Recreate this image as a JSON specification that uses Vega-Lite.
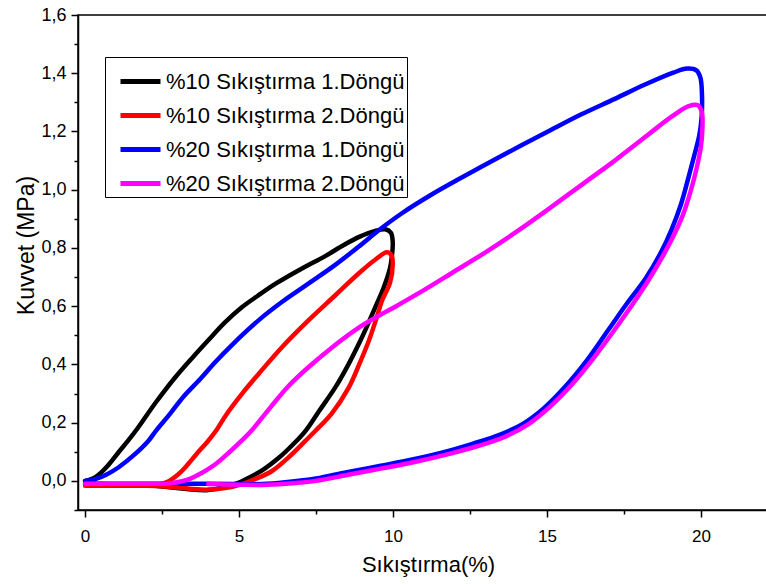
{
 "$schema": "https://vega.github.io/schema/vega-lite/v6.json",
 "width": 700,
 "height": 495,
 "autosize": {"type": "none"},
 "padding": {"left": 78, "top": 15, "right": 0, "bottom": 74},
 "background": "white",
 "config": {"view": {"stroke": "#000000", "strokeWidth": 1.5}, "font": "Liberation Sans"},
 "datasets": {
  "raw": [
   {"series":"%10 Sıkıştırma 1.Döngü","i":1,"x":0,"y":0},
   {"series":"%10 Sıkıştırma 1.Döngü","i":2,"x":0.35,"y":0.014},
   {"series":"%10 Sıkıştırma 1.Döngü","i":3,"x":0.76,"y":0.055},
   {"series":"%10 Sıkıştırma 1.Döngü","i":4,"x":1.1,"y":0.1},
   {"series":"%10 Sıkıştırma 1.Döngü","i":5,"x":1.41,"y":0.14},
   {"series":"%10 Sıkıştırma 1.Döngü","i":6,"x":1.7,"y":0.18},
   {"series":"%10 Sıkıştırma 1.Döngü","i":7,"x":2.3,"y":0.27},
   {"series":"%10 Sıkıştırma 1.Döngü","i":8,"x":2.93,"y":0.356},
   {"series":"%10 Sıkıştırma 1.Döngü","i":9,"x":3.5,"y":0.425},
   {"series":"%10 Sıkıştırma 1.Döngü","i":10,"x":4.0,"y":0.483},
   {"series":"%10 Sıkıştırma 1.Döngü","i":11,"x":4.55,"y":0.545},
   {"series":"%10 Sıkıştırma 1.Döngü","i":12,"x":5.1,"y":0.597},
   {"series":"%10 Sıkıştırma 1.Döngü","i":13,"x":5.6,"y":0.635},
   {"series":"%10 Sıkıştırma 1.Döngü","i":14,"x":6.2,"y":0.678},
   {"series":"%10 Sıkıştırma 1.Döngü","i":15,"x":7.0,"y":0.727},
   {"series":"%10 Sıkıştırma 1.Döngü","i":16,"x":7.8,"y":0.772},
   {"series":"%10 Sıkıştırma 1.Döngü","i":17,"x":8.4,"y":0.81},
   {"series":"%10 Sıkıştırma 1.Döngü","i":18,"x":8.9,"y":0.838},
   {"series":"%10 Sıkıştırma 1.Döngü","i":19,"x":9.4,"y":0.858},
   {"series":"%10 Sıkıştırma 1.Döngü","i":20,"x":9.75,"y":0.864},
   {"series":"%10 Sıkıştırma 1.Döngü","i":21,"x":9.93,"y":0.852},
   {"series":"%10 Sıkıştırma 1.Döngü","i":22,"x":9.99,"y":0.82},
   {"series":"%10 Sıkıştırma 1.Döngü","i":23,"x":9.96,"y":0.77},
   {"series":"%10 Sıkıştırma 1.Döngü","i":24,"x":9.9,"y":0.73},
   {"series":"%10 Sıkıştırma 1.Döngü","i":25,"x":9.7,"y":0.665},
   {"series":"%10 Sıkıştırma 1.Döngü","i":26,"x":9.43,"y":0.598},
   {"series":"%10 Sıkıştırma 1.Döngü","i":27,"x":9.15,"y":0.53},
   {"series":"%10 Sıkıştırma 1.Döngü","i":28,"x":8.89,"y":0.471},
   {"series":"%10 Sıkıştırma 1.Döngü","i":29,"x":8.5,"y":0.39},
   {"series":"%10 Sıkıştırma 1.Döngü","i":30,"x":8.13,"y":0.322},
   {"series":"%10 Sıkıştırma 1.Döngü","i":31,"x":7.6,"y":0.24},
   {"series":"%10 Sıkıştırma 1.Döngü","i":32,"x":7.16,"y":0.172},
   {"series":"%10 Sıkıştırma 1.Döngü","i":33,"x":6.75,"y":0.125},
   {"series":"%10 Sıkıştırma 1.Döngü","i":34,"x":6.3,"y":0.08},
   {"series":"%10 Sıkıştırma 1.Döngü","i":35,"x":5.75,"y":0.036},
   {"series":"%10 Sıkıştırma 1.Döngü","i":36,"x":5.3,"y":0.01},
   {"series":"%10 Sıkıştırma 1.Döngü","i":37,"x":4.95,"y":-0.008},
   {"series":"%10 Sıkıştırma 1.Döngü","i":38,"x":4.5,"y":-0.022},
   {"series":"%10 Sıkıştırma 1.Döngü","i":39,"x":3.95,"y":-0.032},
   {"series":"%10 Sıkıştırma 1.Döngü","i":40,"x":3.3,"y":-0.028},
   {"series":"%10 Sıkıştırma 1.Döngü","i":41,"x":2.6,"y":-0.02},
   {"series":"%10 Sıkıştırma 1.Döngü","i":42,"x":2.0,"y":-0.015},
   {"series":"%10 Sıkıştırma 1.Döngü","i":43,"x":1.0,"y":-0.012},
   {"series":"%10 Sıkıştırma 1.Döngü","i":44,"x":0,"y":-0.01},

   {"series":"%10 Sıkıştırma 2.Döngü","i":1,"x":0,"y":-0.017},
   {"series":"%10 Sıkıştırma 2.Döngü","i":2,"x":1,"y":-0.017},
   {"series":"%10 Sıkıştırma 2.Döngü","i":3,"x":2,"y":-0.016},
   {"series":"%10 Sıkıştırma 2.Döngü","i":4,"x":2.4,"y":-0.012},
   {"series":"%10 Sıkıştırma 2.Döngü","i":5,"x":2.7,"y":-0.002},
   {"series":"%10 Sıkıştırma 2.Döngü","i":6,"x":3.0,"y":0.02},
   {"series":"%10 Sıkıştırma 2.Döngü","i":7,"x":3.25,"y":0.046},
   {"series":"%10 Sıkıştırma 2.Döngü","i":8,"x":3.6,"y":0.09},
   {"series":"%10 Sıkıştırma 2.Döngü","i":9,"x":4.0,"y":0.138},
   {"series":"%10 Sıkıştırma 2.Döngü","i":10,"x":4.25,"y":0.172},
   {"series":"%10 Sıkıştırma 2.Döngü","i":11,"x":4.6,"y":0.23},
   {"series":"%10 Sıkıştırma 2.Döngü","i":12,"x":5.1,"y":0.3},
   {"series":"%10 Sıkıştırma 2.Döngü","i":13,"x":5.64,"y":0.368},
   {"series":"%10 Sıkıştırma 2.Döngü","i":14,"x":6.4,"y":0.46},
   {"series":"%10 Sıkıştırma 2.Döngü","i":15,"x":7.26,"y":0.552},
   {"series":"%10 Sıkıştırma 2.Döngü","i":16,"x":8.1,"y":0.635},
   {"series":"%10 Sıkıştırma 2.Döngü","i":17,"x":8.89,"y":0.713},
   {"series":"%10 Sıkıştırma 2.Döngü","i":18,"x":9.45,"y":0.762},
   {"series":"%10 Sıkıştırma 2.Döngü","i":19,"x":9.8,"y":0.785},
   {"series":"%10 Sıkıştırma 2.Döngü","i":20,"x":9.95,"y":0.775},
   {"series":"%10 Sıkıştırma 2.Döngü","i":21,"x":9.99,"y":0.745},
   {"series":"%10 Sıkıştırma 2.Döngü","i":22,"x":9.9,"y":0.68},
   {"series":"%10 Sıkıştırma 2.Döngü","i":23,"x":9.65,"y":0.621},
   {"series":"%10 Sıkıştırma 2.Döngü","i":24,"x":9.45,"y":0.555},
   {"series":"%10 Sıkıştırma 2.Döngü","i":25,"x":9.22,"y":0.483},
   {"series":"%10 Sıkıştırma 2.Döngü","i":26,"x":8.9,"y":0.4},
   {"series":"%10 Sıkıştırma 2.Döngü","i":27,"x":8.57,"y":0.322},
   {"series":"%10 Sıkıştırma 2.Döngü","i":28,"x":8.0,"y":0.23},
   {"series":"%10 Sıkıştırma 2.Döngü","i":29,"x":7.48,"y":0.172},
   {"series":"%10 Sıkıştırma 2.Döngü","i":30,"x":7.16,"y":0.138},
   {"series":"%10 Sıkıştırma 2.Döngü","i":31,"x":6.6,"y":0.08},
   {"series":"%10 Sıkıştırma 2.Döngü","i":32,"x":6.07,"y":0.034},
   {"series":"%10 Sıkıştırma 2.Döngü","i":33,"x":5.5,"y":0.005},
   {"series":"%10 Sıkıştırma 2.Döngü","i":34,"x":5.1,"y":-0.011},
   {"series":"%10 Sıkıştırma 2.Döngü","i":35,"x":4.6,"y":-0.024},
   {"series":"%10 Sıkıştırma 2.Döngü","i":36,"x":4.0,"y":-0.03},
   {"series":"%10 Sıkıştırma 2.Döngü","i":37,"x":3.4,"y":-0.027},
   {"series":"%10 Sıkıştırma 2.Döngü","i":38,"x":2.7,"y":-0.02},
   {"series":"%10 Sıkıştırma 2.Döngü","i":39,"x":2.0,"y":-0.017},
   {"series":"%10 Sıkıştırma 2.Döngü","i":40,"x":0,"y":-0.017},

   {"series":"%20 Sıkıştırma 1.Döngü","i":1,"x":0,"y":0},
   {"series":"%20 Sıkıştırma 1.Döngü","i":2,"x":0.33,"y":0.006},
   {"series":"%20 Sıkıştırma 1.Döngü","i":3,"x":0.7,"y":0.022},
   {"series":"%20 Sıkıştırma 1.Döngü","i":4,"x":1.08,"y":0.046},
   {"series":"%20 Sıkıştırma 1.Döngü","i":5,"x":1.6,"y":0.09},
   {"series":"%20 Sıkıştırma 1.Döngü","i":6,"x":2.06,"y":0.138},
   {"series":"%20 Sıkıştırma 1.Döngü","i":7,"x":2.3,"y":0.172},
   {"series":"%20 Sıkıştırma 1.Döngü","i":8,"x":2.77,"y":0.232},
   {"series":"%20 Sıkıştırma 1.Döngü","i":9,"x":3.2,"y":0.29},
   {"series":"%20 Sıkıştırma 1.Döngü","i":10,"x":3.74,"y":0.35},
   {"series":"%20 Sıkıştırma 1.Döngü","i":11,"x":4.2,"y":0.405},
   {"series":"%20 Sıkıştırma 1.Döngü","i":12,"x":4.8,"y":0.47},
   {"series":"%20 Sıkıştırma 1.Döngü","i":13,"x":5.64,"y":0.552},
   {"series":"%20 Sıkıştırma 1.Döngü","i":14,"x":6.4,"y":0.615},
   {"series":"%20 Sıkıştırma 1.Döngü","i":15,"x":7.26,"y":0.678},
   {"series":"%20 Sıkıştırma 1.Döngü","i":16,"x":8.1,"y":0.74},
   {"series":"%20 Sıkıştırma 1.Döngü","i":17,"x":8.89,"y":0.805},
   {"series":"%20 Sıkıştırma 1.Döngü","i":18,"x":9.6,"y":0.866},
   {"series":"%20 Sıkıştırma 1.Döngü","i":19,"x":10.3,"y":0.92},
   {"series":"%20 Sıkıştırma 1.Döngü","i":20,"x":11.2,"y":0.98},
   {"series":"%20 Sıkıştırma 1.Döngü","i":21,"x":12.2,"y":1.04},
   {"series":"%20 Sıkıştırma 1.Döngü","i":22,"x":13.5,"y":1.115},
   {"series":"%20 Sıkıştırma 1.Döngü","i":23,"x":15.0,"y":1.198},
   {"series":"%20 Sıkıştırma 1.Döngü","i":24,"x":16.1,"y":1.258},
   {"series":"%20 Sıkıştırma 1.Döngü","i":25,"x":17.2,"y":1.312},
   {"series":"%20 Sıkıştırma 1.Döngü","i":26,"x":18.2,"y":1.362},
   {"series":"%20 Sıkıştırma 1.Döngü","i":27,"x":19.1,"y":1.402},
   {"series":"%20 Sıkıştırma 1.Döngü","i":28,"x":19.55,"y":1.416},
   {"series":"%20 Sıkıştırma 1.Döngü","i":29,"x":19.85,"y":1.41},
   {"series":"%20 Sıkıştırma 1.Döngü","i":30,"x":19.98,"y":1.385},
   {"series":"%20 Sıkıştırma 1.Döngü","i":31,"x":20.03,"y":1.33},
   {"series":"%20 Sıkıştırma 1.Döngü","i":32,"x":20.02,"y":1.25},
   {"series":"%20 Sıkıştırma 1.Döngü","i":33,"x":19.95,"y":1.19},
   {"series":"%20 Sıkıştırma 1.Döngü","i":34,"x":19.8,"y":1.125},
   {"series":"%20 Sıkıştırma 1.Döngü","i":35,"x":19.6,"y":1.045},
   {"series":"%20 Sıkıştırma 1.Döngü","i":36,"x":19.35,"y":0.95},
   {"series":"%20 Sıkıştırma 1.Döngü","i":37,"x":19.05,"y":0.865},
   {"series":"%20 Sıkıştırma 1.Döngü","i":38,"x":18.7,"y":0.785},
   {"series":"%20 Sıkıştırma 1.Döngü","i":39,"x":18.2,"y":0.695},
   {"series":"%20 Sıkıştırma 1.Döngü","i":40,"x":17.6,"y":0.61},
   {"series":"%20 Sıkıştırma 1.Döngü","i":41,"x":17.0,"y":0.52},
   {"series":"%20 Sıkıştırma 1.Döngü","i":42,"x":16.3,"y":0.415},
   {"series":"%20 Sıkıştırma 1.Döngü","i":43,"x":15.6,"y":0.325},
   {"series":"%20 Sıkıştırma 1.Döngü","i":44,"x":14.9,"y":0.25},
   {"series":"%20 Sıkıştırma 1.Döngü","i":45,"x":14.2,"y":0.195},
   {"series":"%20 Sıkıştırma 1.Döngü","i":46,"x":13.5,"y":0.16},
   {"series":"%20 Sıkıştırma 1.Döngü","i":47,"x":12.6,"y":0.128},
   {"series":"%20 Sıkıştırma 1.Döngü","i":48,"x":11.8,"y":0.103},
   {"series":"%20 Sıkıştırma 1.Döngü","i":49,"x":10.7,"y":0.075},
   {"series":"%20 Sıkıştırma 1.Döngü","i":50,"x":9.6,"y":0.052},
   {"series":"%20 Sıkıştırma 1.Döngü","i":51,"x":8.5,"y":0.03},
   {"series":"%20 Sıkıştırma 1.Döngü","i":52,"x":7.5,"y":0.008},
   {"series":"%20 Sıkıştırma 1.Döngü","i":53,"x":6.5,"y":-0.005},
   {"series":"%20 Sıkıştırma 1.Döngü","i":54,"x":5.75,"y":-0.011},
   {"series":"%20 Sıkıştırma 1.Döngü","i":55,"x":4.9,"y":-0.011},
   {"series":"%20 Sıkıştırma 1.Döngü","i":56,"x":4,"y":-0.01},
   {"series":"%20 Sıkıştırma 1.Döngü","i":57,"x":3,"y":-0.01},
   {"series":"%20 Sıkıştırma 1.Döngü","i":58,"x":2,"y":-0.01},
   {"series":"%20 Sıkıştırma 1.Döngü","i":59,"x":0,"y":-0.01},

   {"series":"%20 Sıkıştırma 2.Döngü","i":1,"x":0,"y":-0.01},
   {"series":"%20 Sıkıştırma 2.Döngü","i":2,"x":1,"y":-0.01},
   {"series":"%20 Sıkıştırma 2.Döngü","i":3,"x":2,"y":-0.01},
   {"series":"%20 Sıkıştırma 2.Döngü","i":4,"x":2.8,"y":-0.008},
   {"series":"%20 Sıkıştırma 2.Döngü","i":5,"x":3.36,"y":0.005},
   {"series":"%20 Sıkıştırma 2.Döngü","i":6,"x":3.8,"y":0.028},
   {"series":"%20 Sıkıştırma 2.Döngü","i":7,"x":4.23,"y":0.057},
   {"series":"%20 Sıkıştırma 2.Döngü","i":8,"x":4.7,"y":0.1},
   {"series":"%20 Sıkıştırma 2.Döngü","i":9,"x":5.1,"y":0.14},
   {"series":"%20 Sıkıştırma 2.Döngü","i":10,"x":5.4,"y":0.172},
   {"series":"%20 Sıkıştırma 2.Döngü","i":11,"x":6.0,"y":0.25},
   {"series":"%20 Sıkıştırma 2.Döngü","i":12,"x":6.6,"y":0.325},
   {"series":"%20 Sıkıştırma 2.Döngü","i":13,"x":7.26,"y":0.391},
   {"series":"%20 Sıkıştırma 2.Döngü","i":14,"x":8.1,"y":0.465},
   {"series":"%20 Sıkıştırma 2.Döngü","i":15,"x":8.9,"y":0.527},
   {"series":"%20 Sıkıştırma 2.Döngü","i":16,"x":9.5,"y":0.565},
   {"series":"%20 Sıkıştırma 2.Döngü","i":17,"x":10.1,"y":0.6},
   {"series":"%20 Sıkıştırma 2.Döngü","i":18,"x":11.0,"y":0.655},
   {"series":"%20 Sıkıştırma 2.Döngü","i":19,"x":12.0,"y":0.72},
   {"series":"%20 Sıkıştırma 2.Döngü","i":20,"x":13.0,"y":0.785},
   {"series":"%20 Sıkıştırma 2.Döngü","i":21,"x":14.0,"y":0.855},
   {"series":"%20 Sıkıştırma 2.Döngü","i":22,"x":15.0,"y":0.93},
   {"series":"%20 Sıkıştırma 2.Döngü","i":23,"x":16.1,"y":1.015},
   {"series":"%20 Sıkıştırma 2.Döngü","i":24,"x":17.2,"y":1.1},
   {"series":"%20 Sıkıştırma 2.Döngü","i":25,"x":18.27,"y":1.188},
   {"series":"%20 Sıkıştırma 2.Döngü","i":26,"x":19.1,"y":1.255},
   {"series":"%20 Sıkıştırma 2.Döngü","i":27,"x":19.6,"y":1.287},
   {"series":"%20 Sıkıştırma 2.Döngü","i":28,"x":19.9,"y":1.29},
   {"series":"%20 Sıkıştırma 2.Döngü","i":29,"x":20.03,"y":1.265},
   {"series":"%20 Sıkıştırma 2.Döngü","i":30,"x":20.04,"y":1.2},
   {"series":"%20 Sıkıştırma 2.Döngü","i":31,"x":20.0,"y":1.15},
   {"series":"%20 Sıkıştırma 2.Döngü","i":32,"x":19.85,"y":1.07},
   {"series":"%20 Sıkıştırma 2.Döngü","i":33,"x":19.65,"y":0.99},
   {"series":"%20 Sıkıştırma 2.Döngü","i":34,"x":19.4,"y":0.91},
   {"series":"%20 Sıkıştırma 2.Döngü","i":35,"x":19.1,"y":0.84},
   {"series":"%20 Sıkıştırma 2.Döngü","i":36,"x":18.75,"y":0.77},
   {"series":"%20 Sıkıştırma 2.Döngü","i":37,"x":18.3,"y":0.69},
   {"series":"%20 Sıkıştırma 2.Döngü","i":38,"x":17.8,"y":0.61},
   {"series":"%20 Sıkıştırma 2.Döngü","i":39,"x":17.2,"y":0.52},
   {"series":"%20 Sıkıştırma 2.Döngü","i":40,"x":16.5,"y":0.42},
   {"series":"%20 Sıkıştırma 2.Döngü","i":41,"x":15.8,"y":0.33},
   {"series":"%20 Sıkıştırma 2.Döngü","i":42,"x":15.1,"y":0.255},
   {"series":"%20 Sıkıştırma 2.Döngü","i":43,"x":14.4,"y":0.195},
   {"series":"%20 Sıkıştırma 2.Döngü","i":44,"x":13.6,"y":0.15},
   {"series":"%20 Sıkıştırma 2.Döngü","i":45,"x":12.7,"y":0.118},
   {"series":"%20 Sıkıştırma 2.Döngü","i":46,"x":11.8,"y":0.092},
   {"series":"%20 Sıkıştırma 2.Döngü","i":47,"x":10.7,"y":0.065},
   {"series":"%20 Sıkıştırma 2.Döngü","i":48,"x":9.6,"y":0.042},
   {"series":"%20 Sıkıştırma 2.Döngü","i":49,"x":8.5,"y":0.02},
   {"series":"%20 Sıkıştırma 2.Döngü","i":50,"x":7.5,"y":0.0},
   {"series":"%20 Sıkıştırma 2.Döngü","i":51,"x":6.5,"y":-0.01},
   {"series":"%20 Sıkıştırma 2.Döngü","i":52,"x":5.75,"y":-0.014},
   {"series":"%20 Sıkıştırma 2.Döngü","i":53,"x":5.0,"y":-0.013},
   {"series":"%20 Sıkıştırma 2.Döngü","i":54,"x":4.0,"y":-0.011}
  ]
 },
 "data": {"name": "raw"},
 "mark": {"type": "line", "interpolate": "catmull-rom", "strokeWidth": 4.5, "strokeCap": "round", "strokeJoin": "round", "clip": true},
 "encoding": {
  "x": {
   "field": "x", "type": "quantitative",
   "scale": {"domain": [-0.23, 22.5], "nice": false, "zero": false},
   "axis": {
    "title": "Sıkıştırma(%)",
    "values": [0, 2.5, 5, 7.5, 10, 12.5, 15, 17.5, 20],
    "labelExpr": "datum.value % 5 == 0 ? format(datum.value, 'd') : ''",
    "tickSize": {"condition": {"test": "datum.value % 5 == 0", "value": 7}, "value": 4},
    "tickWidth": 1.5, "tickColor": "#000000",
    "domainColor": "#000000", "domainWidth": 1.5, "grid": false,
    "labelFont": "Liberation Sans", "labelFontSize": 17, "labelColor": "#000000", "labelPadding": 11,
    "titleFont": "Liberation Sans", "titleFontSize": 22, "titleFontWeight": "normal", "titleColor": "#000000",
    "titleY": 44, "titleBaseline": "top"
   }
  },
  "y": {
   "field": "y", "type": "quantitative",
   "scale": {"domain": [-0.1, 1.6], "nice": false, "zero": false},
   "axis": {
    "title": "Kuvvet (MPa)",
    "values": [-0.1, 0, 0.1, 0.2, 0.3, 0.4, 0.5, 0.6, 0.7, 0.8, 0.9, 1.0, 1.1, 1.2, 1.3, 1.4, 1.5, 1.6],
    "labelExpr": "round(datum.value * 10) % 2 == 0 ? replace(format(datum.value, '.1f'), '.', ',') : ''",
    "tickSize": {"condition": {"test": "round(datum.value * 10) % 2 == 0", "value": 7}, "value": 4},
    "tickWidth": 1.5, "tickColor": "#000000",
    "domainColor": "#000000", "domainWidth": 1.5, "grid": false,
    "labelFont": "Liberation Sans", "labelFontSize": 18, "labelColor": "#000000", "labelPadding": 5,
    "titleFont": "Liberation Sans", "titleFontSize": 23, "titleFontWeight": "normal", "titleColor": "#000000",
    "titleX": -40, "titleY": 230
   }
  },
  "color": {
   "field": "series", "type": "nominal",
   "scale": {
    "domain": ["%10 Sıkıştırma 1.Döngü", "%10 Sıkıştırma 2.Döngü", "%20 Sıkıştırma 1.Döngü", "%20 Sıkıştırma 2.Döngü"],
    "range": ["#000000", "#ff0000", "#0000ff", "#ff00ff"]
   },
   "legend": {
    "orient": "none", "legendX": 27, "legendY": 42, "title": null,
    "strokeColor": "#000000", "fillColor": "#ffffff", "padding": 2, "cornerRadius": 0,
    "symbolType": "stroke", "symbolSize": 1600, "symbolStrokeWidth": 5, "symbolOffset": 11,
    "labelFont": "Liberation Sans", "labelFontSize": 22, "labelColor": "#000000", "labelOffset": 3, "labelLimit": 400,
    "rowPadding": -2
   }
  },
  "order": {"field": "i", "type": "quantitative"}
 }
}
